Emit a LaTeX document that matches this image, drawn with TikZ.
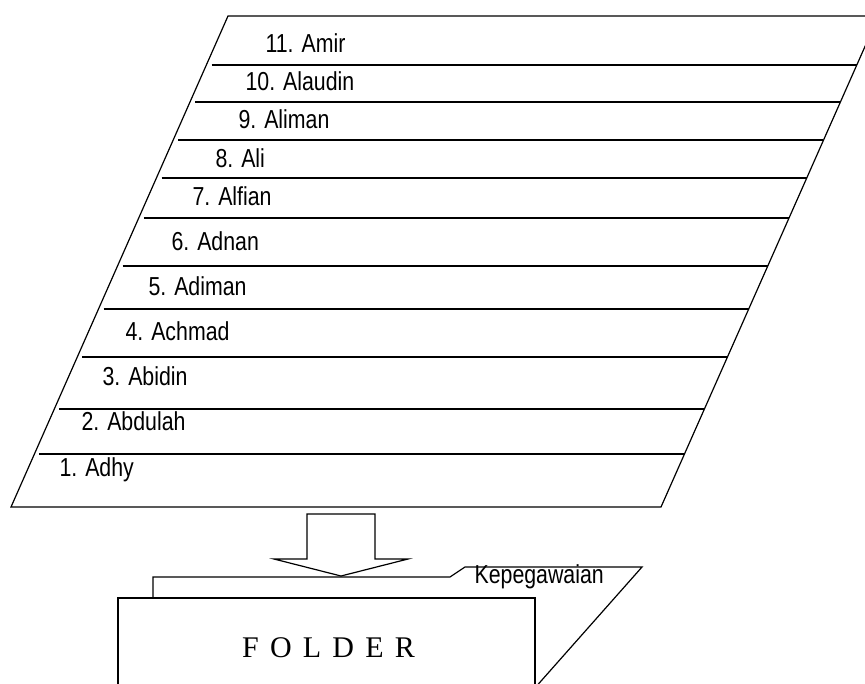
\documentclass[tikz,border=0pt]{standalone}
\usepackage{fontspec}
\newfontfamily\namefont[FakeStretch=0.82]{Liberation Sans}
\newfontfamily\titlefont{Liberation Serif}
\begin{document}
\begin{tikzpicture}[x=0.75pt,y=-0.75pt,line width=0.9pt,line join=miter,
  entry/.style={font=\namefont\fontsize{19.5}{22}\selectfont,anchor=base west,inner sep=0pt},
  tabtext/.style={font=\namefont\fontsize{19.5}{22}\selectfont,anchor=base west,inner sep=0pt},
  foldertext/.style={font=\titlefont\fontsize{22.5}{26}\selectfont,inner sep=0pt}]
\useasboundingbox (0,0) rectangle (865,683);
\clip (0,0) rectangle (865,683);

% slanted sheet holding the list of names
\coordinate (tl) at (228,16);
\coordinate (tr) at (878.5,16);
\coordinate (br) at (661,507);
\coordinate (bl) at (11,507);
\draw (tl) -- (tr) -- (br) -- (bl) -- cycle;

% row separators
\foreach \y in {65,102,140,178,218,266,309,357,409,454}
  \draw ({11+0.4425*(507-\y)+5},\y) -- ({661+0.4425*(507-\y)},\y);

% names
\node[entry] (n11) at (265,52)  {11. Amir};
\node[entry] (n10) at (245,90)  {10. Alaudin};
\node[entry] (n9)  at (238,128) {9. Aliman};
\node[entry] (n8)  at (215,167) {8. Ali};
\node[entry] (n7)  at (192,205) {7. Alfian};
\node[entry] (n6)  at (171,250) {6. Adnan};
\node[entry] (n5)  at (148,295) {5. Adiman};
\node[entry] (n4)  at (125,340) {4. Achmad};
\node[entry] (n3)  at (102,385) {3. Abidin};
\node[entry] (n2)  at (81,430)  {2. Abdulah};
\node[entry] (n1)  at (59,476)  {1. Adhy};

% block arrow pointing down into the folder
\draw (307,514) -- (375,514) -- (375,559) -- (408,559) -- (341,576)
      -- (274,559) -- (307,559) -- cycle;

% folder: back sheet with tab
\draw (153,598) -- (153,577) -- (450,577) -- (465,567) -- (642,567) -- (526,698);
\node[tabtext] (tab) at (474,583) {Kepegawaian};

% folder: front sheet
\draw (118,700) -- (118,598) -- (535,598) -- (535,700);
\node[foldertext] (folder) at (328.5,648) {\spaceskip=8.4pt F O L D E R};
\end{tikzpicture}
\end{document}
